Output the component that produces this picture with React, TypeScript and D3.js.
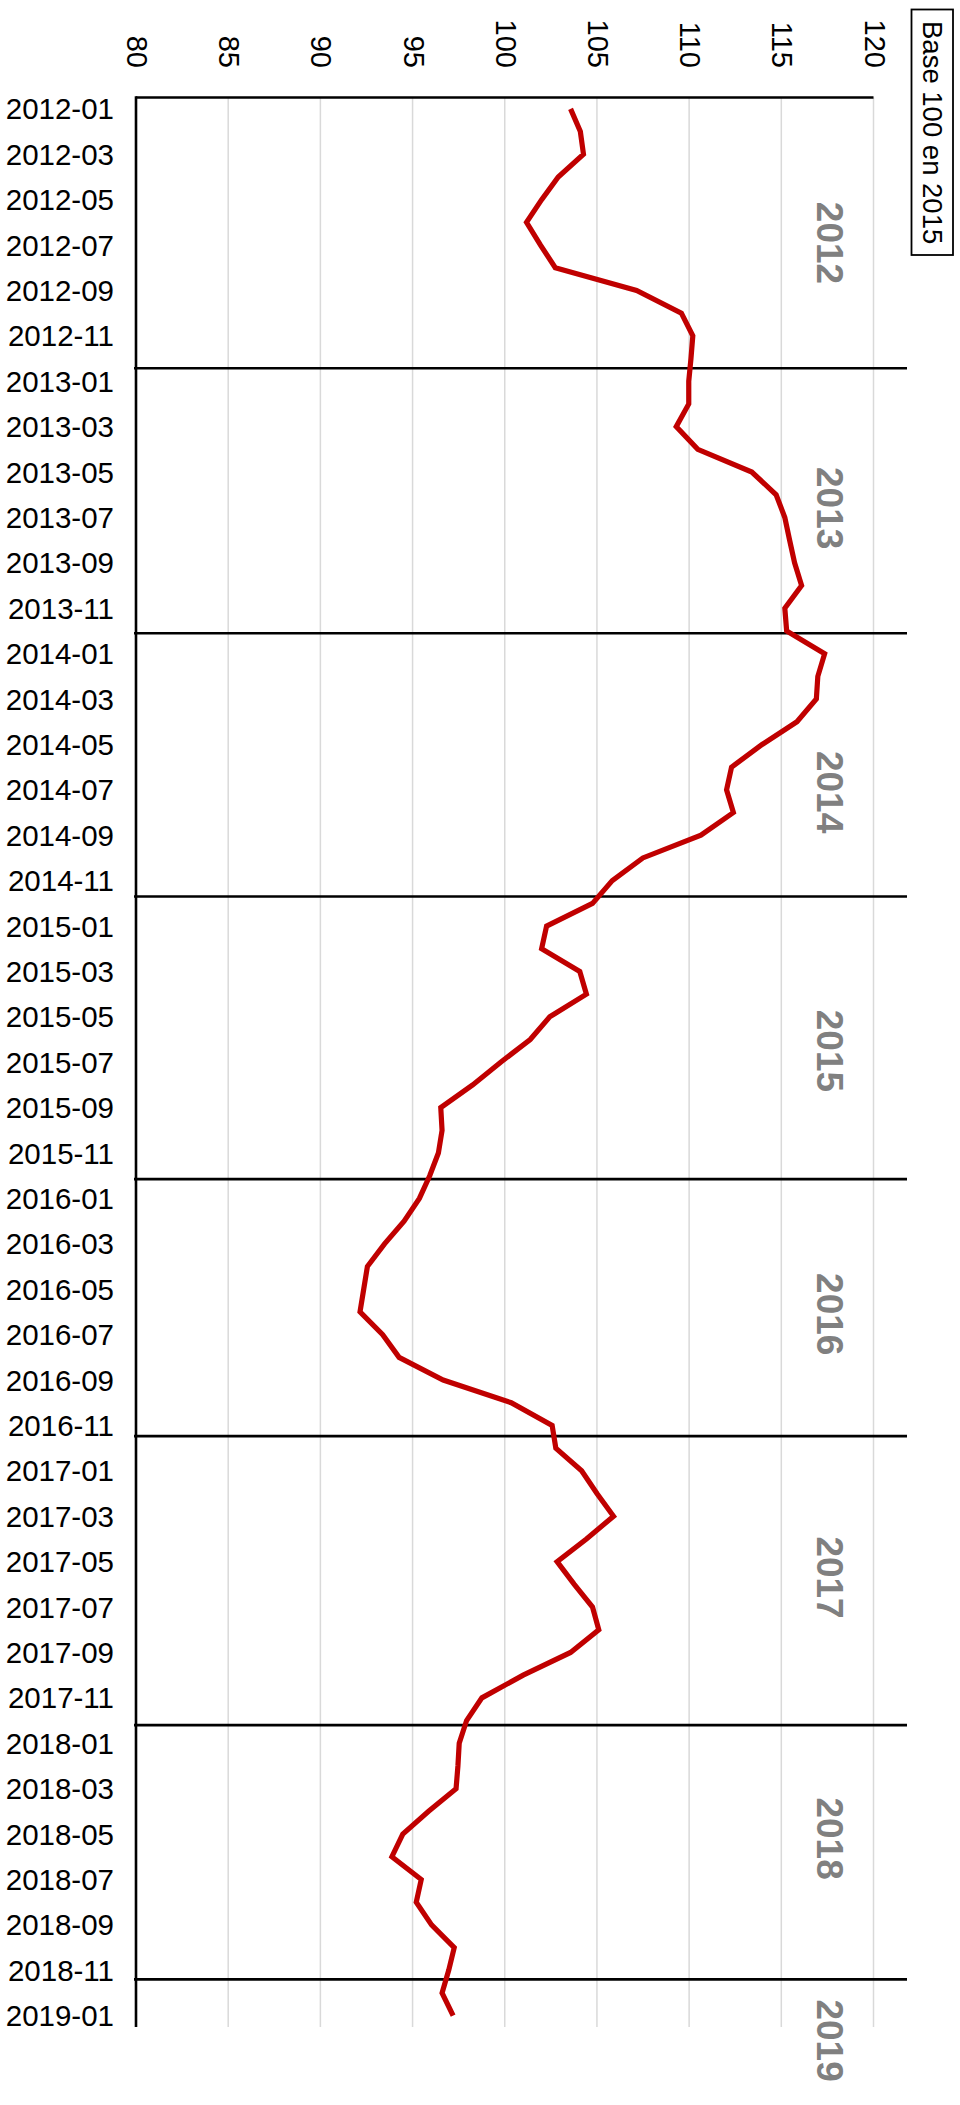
import React from "react";
import * as d3 from "d3";

// Monthly index values, 2012-01 .. 2019-01 (base 100 en 2015)
const months: string[] = [];
for (let y = 2012; y <= 2019; y++) {
  for (let m = 1; m <= 12; m++) {
    if (y === 2019 && m > 1) break;
    months.push(`${y}-${String(m).padStart(2, "0")}`);
  }
}

const values: number[] = [
  103.57, 104.1, 104.27, 102.9, 102.0, 101.18, 101.94, 102.74, 107.15, 109.58, 110.2, 110.1,
  109.98, 109.98, 109.3, 110.47, 113.4, 114.72, 115.19, 115.45, 115.72, 116.1, 115.19, 115.29,
  117.35, 116.98, 116.9, 115.85, 113.96, 112.3, 112.03, 112.4, 110.64, 107.49, 105.83, 104.76,
  102.27, 102.0, 104.07, 104.43, 102.44, 101.38, 99.78, 98.26, 96.53, 96.6, 96.4, 95.93,
  95.37, 94.54, 93.48, 92.55, 92.35, 92.15, 93.38, 94.27, 96.66, 100.35, 102.57, 102.77,
  104.17, 105.0, 105.9, 104.43, 102.84, 103.77, 104.76, 105.1, 103.57, 101.0, 98.76, 97.93,
  97.53, 97.46, 97.36, 95.87, 94.47, 93.88, 95.47, 95.2, 96.03, 97.26, 96.96, 96.6,
  97.2,
];

const xTicks: number[] = [80, 85, 90, 95, 100, 105, 110, 115, 120];

// Year separator lines (position in month index units, as drawn in the source)
const yearLinePos: number[] = [11.43, 23.1, 34.7, 47.15, 58.47, 71.2, 82.4];

// Year labels and their position (month index units)
const yearLabels: string[] = ["2012", "2013", "2014", "2015", "2016", "2017", "2018", "2019"];
const yearLabelPos: number[] = [5.91, 17.59, 30.1, 41.5, 53.1, 64.7, 76.2, 85.1];

const unitLabel = "Base 100 en 2015";

export default function App() {
  const W = 960;
  const H = 2105;
  const left = 136;
  const right = 873.5;
  const top = 97.5;
  const bottom = 2027;

  const x = d3.scaleLinear().domain([80, 120]).range([left, right]);
  const yIdx = d3.scaleLinear().domain([-0.5, months.length - 0.5]).range([top, bottom]);

  const line = d3
    .line<number>()
    .x((d) => x(d))
    .y((_, i) => yIdx(i));

  const font = "'Liberation Sans', Arial, sans-serif";

  return (
    <svg
      width={W}
      height={H}
      style={{ position: "absolute", left: 0, top: 0, background: "#fff" }}
      fontFamily={font}
    >
      {/* gridlines */}
      {xTicks.slice(1).map((t) => (
        <line key={"g" + t} x1={x(t)} x2={x(t)} y1={top} y2={bottom} stroke="#d9d9d9" strokeWidth={1.5} />
      ))}
      {/* top frame */}
      <line x1={left} x2={right} y1={top} y2={top} stroke="#000" strokeWidth={2.6} />
      {/* left axis */}
      <line x1={left} x2={left} y1={top - 1.3} y2={bottom} stroke="#000" strokeWidth={2.6} />
      {/* year separators */}
      {yearLinePos.map((p, i) => (
        <line key={"yl" + i} x1={left - 2} x2={907} y1={yIdx(p)} y2={yIdx(p)} stroke="#000" strokeWidth={2.6} />
      ))}
      {/* x tick labels */}
      {xTicks.map((t) => (
        <text
          key={"xt" + t}
          transform={`translate(${x(t) + 1},68) rotate(90)`}
          textAnchor="end"
          dominantBaseline="central"
          fontSize={29}
          fill="#000"
        >
          {t}
        </text>
      ))}
      {/* y tick labels */}
      {months.map((m, i) =>
        i % 2 === 0 ? (
          <text
            key={"yt" + m}
            x={114}
            y={yIdx(i)}
            textAnchor="end"
            dominantBaseline="central"
            fontSize={29.5}
            fill="#000"
          >
            {m}
          </text>
        ) : null
      )}
      {/* year labels */}
      {yearLabels.map((yl, i) => (
        <text
          key={"ylab" + yl}
          transform={`translate(829,${yIdx(yearLabelPos[i])}) rotate(90)`}
          textAnchor="middle"
          dominantBaseline="central"
          fontSize={37}
          fontWeight="bold"
          fill="#808080"
        >
          {yl}
        </text>
      ))}
      {/* data line */}
      <path d={line(values) || ""} fill="none" stroke="#c00000" strokeWidth={5.2} strokeLinejoin="miter" />
      {/* unit box */}
      <rect x={911.5} y={9.5} width={41.5} height={245.5} fill="#fff" stroke="#000" strokeWidth={1.8} />
      <text
        transform={`translate(932,21) rotate(90)`}
        textAnchor="start"
        dominantBaseline="central"
        fontSize={27.5}
        fill="#000"
      >
        {unitLabel}
      </text>
    </svg>
  );
}
